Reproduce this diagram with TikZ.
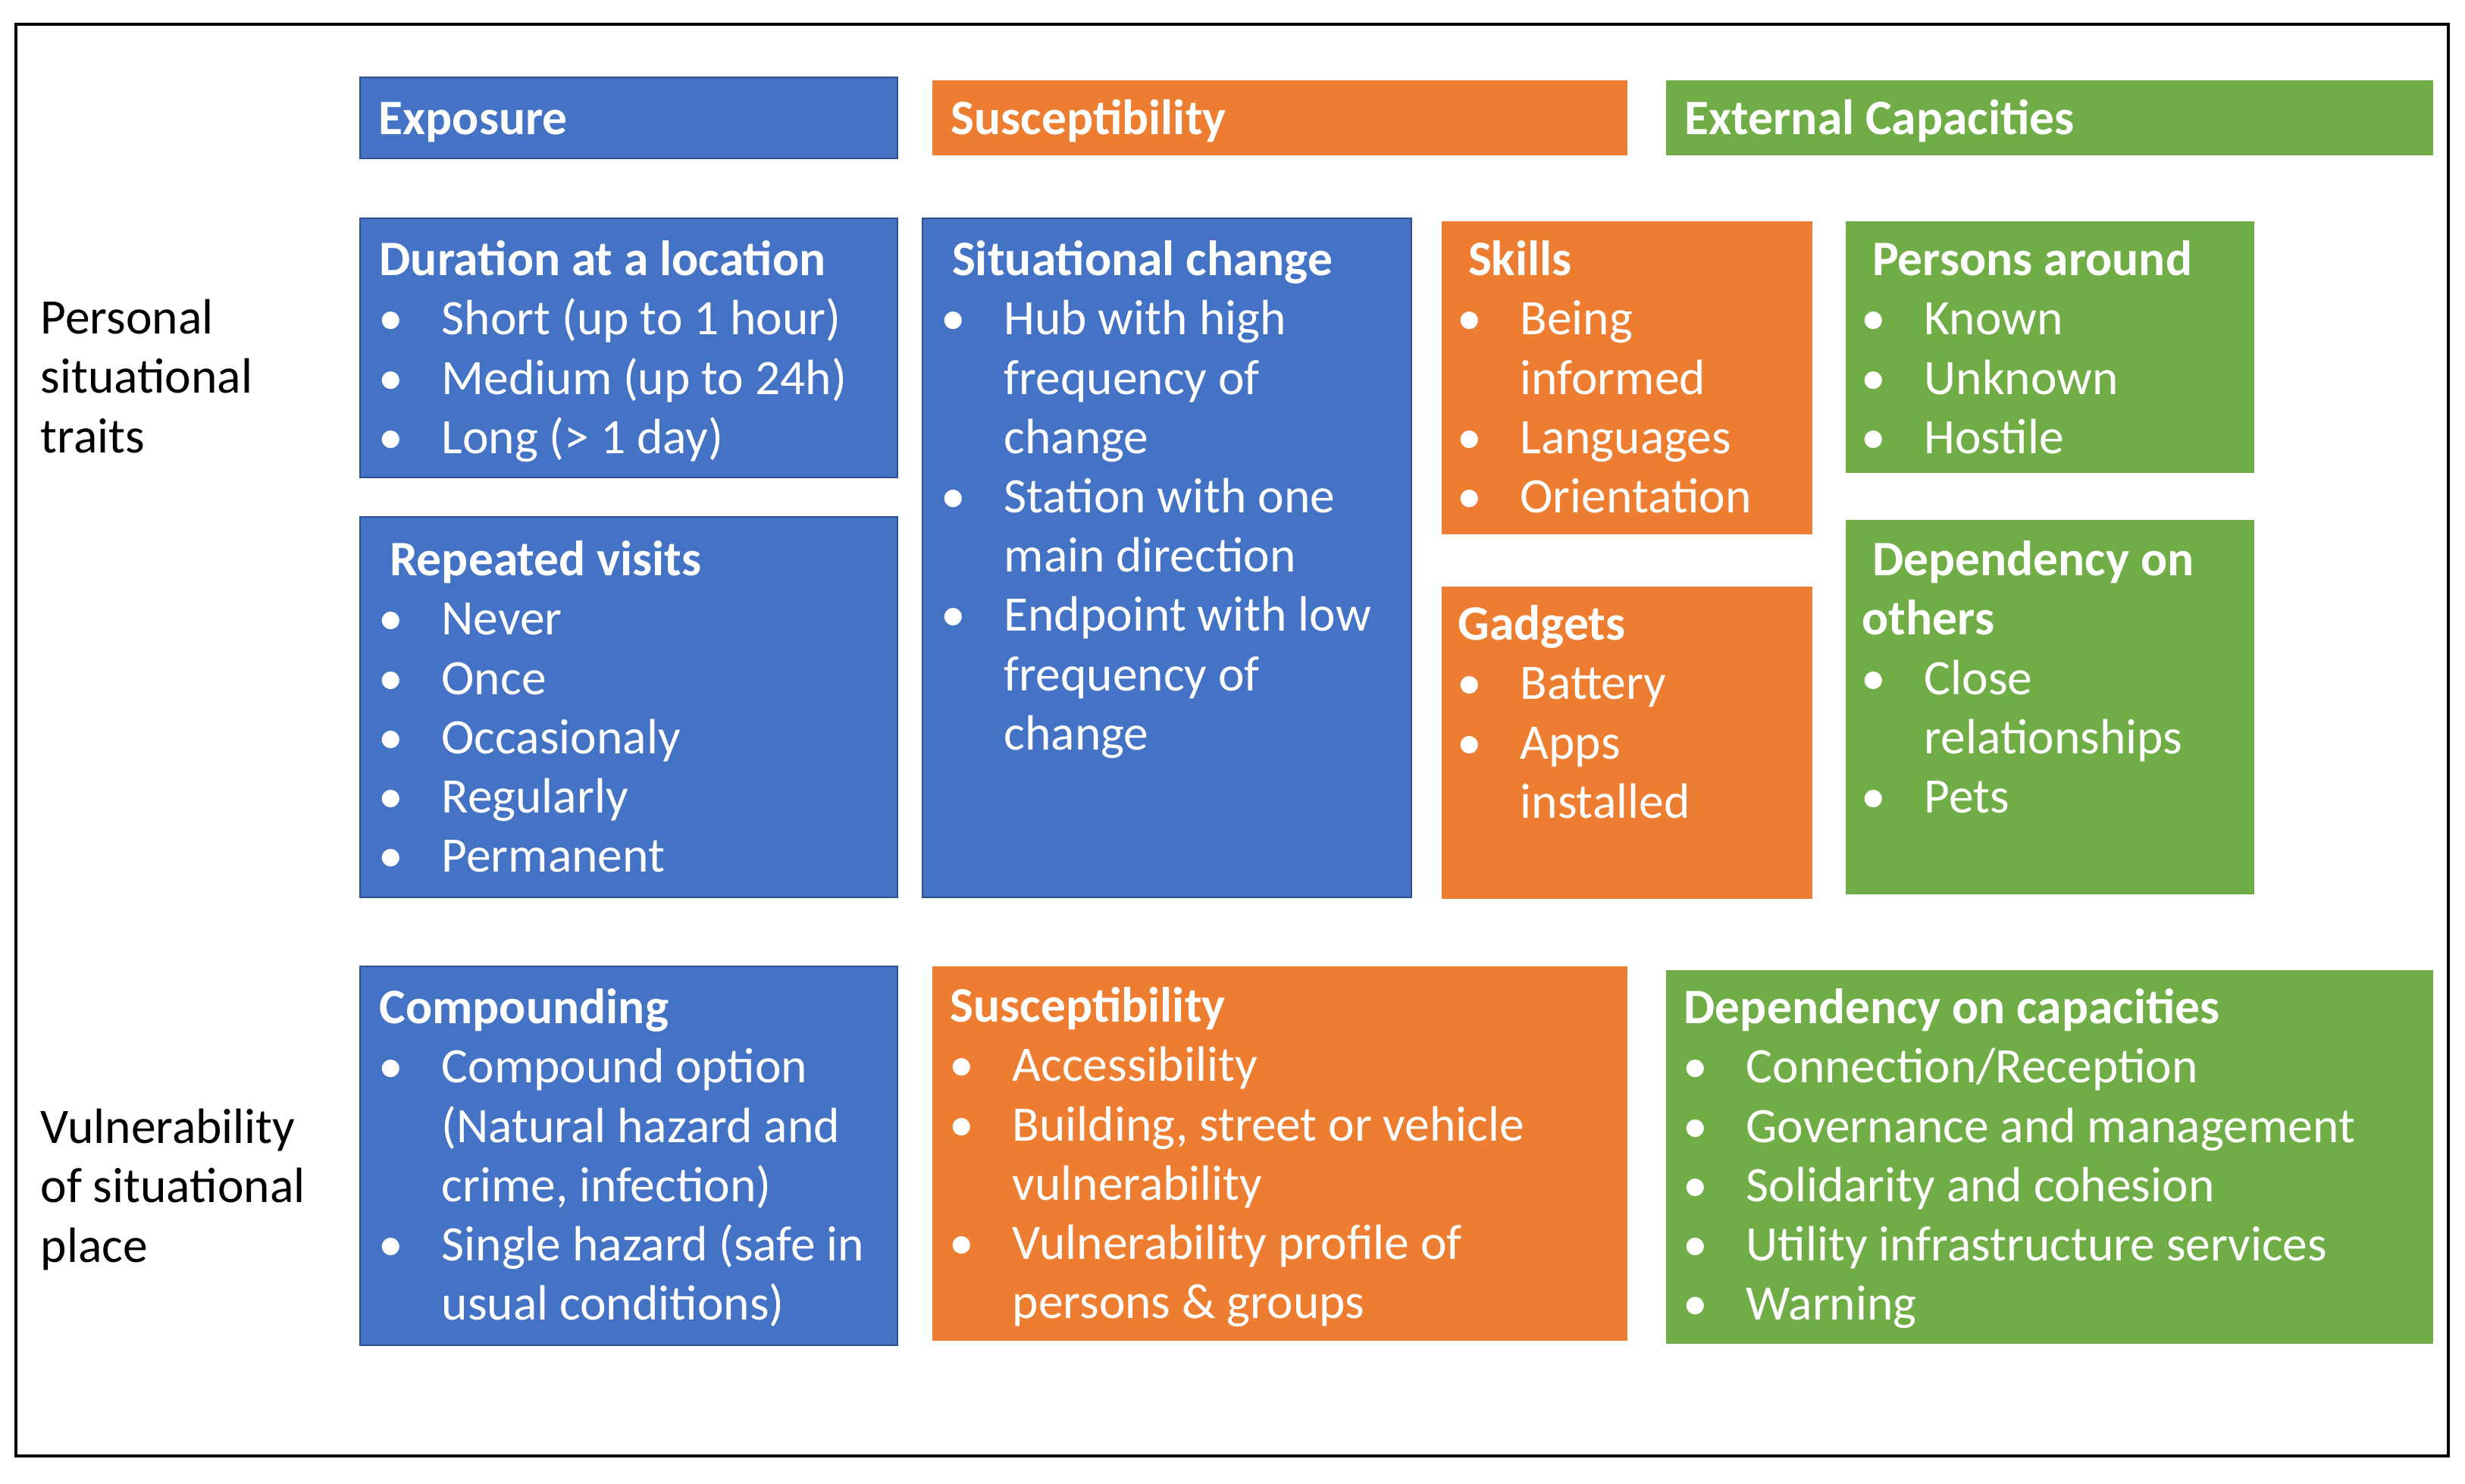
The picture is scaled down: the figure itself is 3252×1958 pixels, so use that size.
\documentclass[tikz,border=0pt]{standalone}
\usepackage{fontspec}
\setmainfont{Carlito}
\usetikzlibrary{fit}
\definecolor{cblue}{HTML}{4472C4}
\definecolor{cblueb}{HTML}{2F528F}
\definecolor{corange}{HTML}{ED7D31}
\definecolor{cgreen}{HTML}{70AD47}
\newcommand\fs{\fontsize{19.65pt}{23.46pt}\selectfont}
\newcommand\fst{\rule{0pt}{15pt}}
\newcommand\bl[1]{\makebox[24.6pt][l]{\hspace*{4.5pt}\makebox[0pt][c]{\textbullet}}#1}
\newcommand\cl[1]{\hspace*{24.6pt}#1}
\newcommand\lsp{\hspace*{4pt}}
\begin{document}
\begin{tikzpicture}[x=0.3pt,y=-0.3pt,
  bluebox/.style={fill=cblue, draw=cblueb, line width=0.6pt, inner sep=0pt},
  orangebox/.style={fill=corange, inner sep=0pt},
  greenbox/.style={fill=cgreen, inner sep=0pt},
  txt/.style={anchor=north west, inner sep=0pt, align=left, font=\fs, text=white},
  hdr/.style={anchor=base west, inner sep=0pt, font=\fs\bfseries, text=white},
  lbl/.style={anchor=north west, inner sep=0pt, align=left, font=\fs, text=black}]
\useasboundingbox (0,0) rectangle (3252,1958);
\fill[white] (0,0) rectangle (3252,1958);
\draw[line width=1.1pt] (21,32) rectangle (3230,1921);

% header boxes
\node[bluebox, fit={(475,102) (1184,209)}] (exphdr) {};
\node[orangebox, fit={(1230,106) (2147,205)}] (sushdr) {};
\node[greenbox, fit={(2198,106) (3210,205)}] (exthdr) {};
\node[hdr] (exphdr-t) at (499,178) {Exposure};
\node[hdr] (sushdr-t) at (1254,178) {Susceptibility};
\node[hdr] (exthdr-t) at (2222,178) {External Capacities};

% row 1 boxes
\node[bluebox, fit={(475,288) (1184,630)}] (dur) {};
\node[bluebox, fit={(475,682) (1184,1184)}] (rep) {};
\node[bluebox, fit={(1217,288) (1862,1184)}] (sit) {};
\node[orangebox, fit={(1902,292) (2391,705)}] (skills) {};
\node[orangebox, fit={(1902,774) (2391,1186)}] (gad) {};
\node[greenbox, fit={(2435,292) (2974,624)}] (pers) {};
\node[greenbox, fit={(2435,686) (2974,1180)}] (depo) {};

% row 2 boxes
\node[bluebox, fit={(475,1275) (1184,1775)}] (comp) {};
\node[orangebox, fit={(1230,1275) (2147,1769)}] (susb) {};
\node[greenbox, fit={(2198,1280) (3210,1773)}] (depc) {};

% row labels
\node[lbl] (lab1) at (53,390) {\fst Personal\\situational\\traits};
\node[lbl] (lab2) at (53,1458) {\fst Vulnerability\\of situational\\place};

% texts
\node[txt] (dur-t) at (500,313) {\fst\textbf{Duration at a location}\\
\bl{Short (up to 1 hour)}\\\bl{Medium (up to 24h)}\\\bl{Long (> 1 day)}};
\node[txt] (rep-t) at (500,709) {\fst\lsp\textbf{Repeated visits}\\
\bl{Never}\\\bl{Once}\\\bl{Occasionaly}\\\bl{Regularly}\\\bl{Permanent}};
\node[txt] (sit-t) at (1242,313) {\fst\lsp\textbf{Situational change}\\
\bl{Hub with high}\\\cl{frequency of}\\\cl{change}\\
\bl{Station with one}\\\cl{main direction}\\
\bl{Endpoint with low}\\\cl{frequency of}\\\cl{change}};
\node[txt] (skills-t) at (1923,313) {\fst\lsp\textbf{Skills}\\
\bl{Being}\\\cl{informed}\\\bl{Languages}\\\bl{Orientation}};
\node[txt] (gad-t) at (1923,794) {\fst\textbf{Gadgets}\\
\bl{Battery}\\\bl{Apps}\\\cl{installed}};
\node[txt] (pers-t) at (2456,313) {\fst\lsp\textbf{Persons around}\\
\bl{Known}\\\bl{Unknown}\\\bl{Hostile}};
\node[txt] (depo-t) at (2456,709) {\fst\lsp\textbf{Dependency on}\\\textbf{others}\\
\bl{Close}\\\cl{relationships}\\\bl{Pets}};
\node[txt] (comp-t) at (500,1300) {\fst\textbf{Compounding}\\
\bl{Compound option}\\\cl{(Natural hazard and}\\\cl{crime, infection)}\\
\bl{Single hazard (safe in}\\\cl{usual conditions)}};
\node[txt] (susb-t) at (1253,1298) {\fst\textbf{Susceptibility}\\
\bl{Accessibility}\\\bl{Building, street or vehicle}\\\cl{vulnerability}\\
\bl{Vulnerability profile of}\\\cl{persons \& groups}};
\node[txt] (depc-t) at (2221,1300) {\fst\textbf{Dependency on capacities}\\
\bl{Connection/Reception}\\\bl{Governance and management}\\\bl{Solidarity and cohesion}\\
\bl{Utility infrastructure services}\\\bl{Warning}};
\end{tikzpicture}
\end{document}
